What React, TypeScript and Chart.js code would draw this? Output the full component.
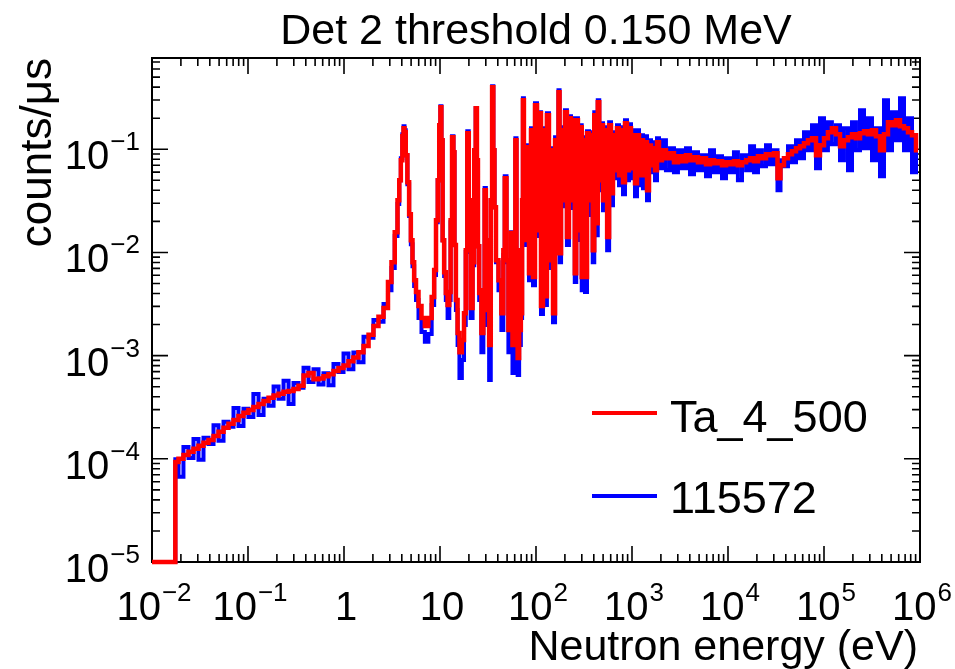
import { useEffect, useRef } from "react";
import { Chart, registerables } from "chart.js";

Chart.register(...registerables);

// ---------- data (energy in eV, counts per microsecond) ----------
const energyThreshold = [0.01, 0.0172];
const taThreshold = [1e-5, 1e-5];
const runThreshold = [1e-5, 1e-5];

const energyLow = [
  0.0178, 0.02, 0.0226, 0.0255, 0.0287, 0.0324, 0.0365, 0.0412, 0.0464, 0.0524,
  0.059, 0.0665, 0.075, 0.0845, 0.0953, 0.107, 0.121, 0.137, 0.154, 0.174,
  0.196, 0.221, 0.249, 0.281, 0.316, 0.357, 0.402, 0.453, 0.511, 0.576,
  0.649, 0.732, 0.825, 0.931, 1.05, 1.18, 1.33, 1.5, 1.7, 1.91,
  2.15, 2.43, 2.74,
];
const taLow = [
  9.3e-5, 1.0e-4, 1.09e-4, 1.17e-4, 1.25e-4, 1.34e-4, 1.43e-4, 1.52e-4, 1.66e-4, 1.83e-4,
  2.0e-4, 2.19e-4, 2.38e-4, 2.6e-4, 2.79e-4, 2.97e-4, 3.18e-4, 3.4e-4, 3.64e-4, 3.9e-4,
  4.1e-4, 4.26e-4, 4.46e-4, 4.55e-4, 4.76e-4, 5.1e-4, 6.4e-4, 6.8e-4, 5.9e-4, 6.0e-4,
  6.3e-4, 6.6e-4, 7.1e-4, 7.6e-4, 8.0e-4, 8.8e-4, 9.6e-4, 1.08e-3, 1.24e-3, 1.59e-3,
  1.94e-3, 2.38e-3, 2.9e-3,
];
const runLow = [
  9.9e-5, 6.7e-5, 1.3e-4, 1.02e-4, 1.56e-4, 9.8e-5, 1.6e-4, 1.39e-4, 2.12e-4, 1.5e-4,
  2.29e-4, 2.05e-4, 3.11e-4, 2.08e-4, 3.05e-4, 2.54e-4, 4.25e-4, 2.66e-4, 3.81e-4, 3.26e-4,
  5.01e-4, 3.81e-4, 5.7e-4, 3.4e-4, 5.44e-4, 4.88e-4, 7.65e-4, 5.56e-4, 7.37e-4, 5.25e-4,
  6.73e-4, 5.17e-4, 8.3e-4, 6.95e-4, 1.05e-3, 7.37e-4, 1.07e-3, 8.64e-4, 1.52e-3, 1.49e-3,
  2.22e-3, 2.13e-3, 3.17e-3,
];

const energyResonance = [
  3.01, 3.24, 3.52, 3.7, 3.83, 3.99, 4.12, 4.22, 4.32, 4.48,
  4.67, 4.87, 5.07, 5.27, 5.49, 5.76, 6.19, 6.65, 7.27, 7.87,
  8.52, 8.87, 9.31, 9.64, 10.0, 10.2, 10.5, 10.8, 11.3, 11.7,
  12.3, 12.7, 13.1, 13.6, 14.0, 14.3, 15.0, 15.5, 16.4, 17.4,
  18.2, 18.9, 19.6, 20.3, 21.4, 22.3, 23.2, 23.9, 24.6, 25.1,
  26.1, 27.9, 28.7, 29.6, 30.5, 31.8, 33.2, 34.4, 35.4, 36.5,
  37.4, 39.2, 42.2, 45.0, 46.4, 48.1, 50.5, 52.7, 54.2, 55.8,
  58.0, 60.0, 61.9, 63.4, 65.4, 68.1, 71.0, 72.3, 73.8, 75.9,
];
const taResonance = [
  5.16e-3, 8.05e-3, 0.0157, 0.0321, 0.0501, 0.0783, 0.134, 0.16, 0.146, 0.0875,
  0.048, 0.0235, 0.0131, 8.05e-3, 5.39e-3, 4.13e-3, 3.02e-3, 2.31e-3, 1.94e-3, 2.31e-3,
  3.69e-3, 6.74e-3, 0.0205, 0.0501, 0.171, 0.255, 0.122, 0.0131, 6.44e-3, 4.04e-3,
  3.09e-3, 4.13e-3, 0.0205, 0.131, 0.0935, 0.0118, 3.45e-3, 1.66e-3, 1.08e-3, 1.42e-3,
  2.58e-3, 0.0105, 0.143, 0.0321, 2.89e-3, 8.05e-3, 0.0978, 0.249, 0.0783, 0.0115,
  4.04e-3, 1.66e-3, 4.31e-3, 0.0401, 0.0131, 2.76e-3, 1.27e-3, 0.0321, 0.398, 0.0978,
  0.0274, 8.42e-3, 5.39e-3, 2.58e-3, 0.0105, 0.0524, 8.42e-3, 1.77e-3, 5.39e-3, 0.0154,
  1.27e-3, 0.0105, 0.122, 0.0105, 9.49e-4, 1.77e-3, 2.58e-3, 0.0321, 0.298, 0.0978,
];
const runResonance = [
  4.31e-3, 7.05e-3, 0.0144, 0.0294, 0.0501, 0.0818, 0.14, 0.167, 0.153, 0.0875,
  0.0459, 0.0225, 0.012, 7.36e-3, 4.72e-3, 3.45e-3, 2.31e-3, 1.69e-3, 1.36e-3, 1.62e-3,
  3.09e-3, 6.03e-3, 0.0196, 0.0501, 0.171, 0.261, 0.122, 0.0131, 5.9e-3, 3.45e-3,
  2.31e-3, 3.45e-3, 0.0196, 0.134, 0.0935, 0.0118, 2.76e-3, 1.27e-3, 6.07e-4, 9.06e-4,
  1.98e-3, 0.0101, 0.149, 0.0321, 2.31e-3, 7.53e-3, 0.0978, 0.249, 0.0783, 0.0115,
  3.45e-3, 1.08e-3, 3.45e-3, 0.042, 0.0126, 1.98e-3, 5.81e-4, 0.0321, 0.407, 0.0978,
  0.0274, 8.05e-3, 4.31e-3, 1.77e-3, 9.42e-3, 0.0548, 8.05e-3, 1.08e-3, 4.82e-3, 0.0157,
  6.79e-4, 9.42e-3, 0.128, 0.0105, 6.49e-4, 1.27e-3, 2.31e-3, 0.0321, 0.312, 0.0978,
];

const energyDense = [
  78.7, 82.5, 86.6, 90.8, 95.3, 100, 105, 110, 115.5, 121,
  127, 133, 140, 147, 154, 162, 169, 174, 178, 187,
  196, 205, 215, 226, 237, 249, 258, 267, 280, 294,
  305, 316, 332, 348, 365, 383, 397, 412, 432, 448,
  464, 487, 511, 536, 566, 590, 619, 649, 681, 715,
  750, 787, 825, 866, 908, 953, 1000, 1049, 1101, 1155,
  1212, 1271, 1334, 1399, 1468, 1540, 1616, 1695, 1778, 1866,
  1957,
];
const taDense = [
  0.0132, 0.1045, 6.3e-3, 0.153, 5.77e-3, 0.267, 0.0164, 0.223, 3.02e-3, 0.153,
  3.77e-3, 0.213, 8.42e-3, 0.0978, 2.58e-3, 0.122, 0.0321, 0.356, 9.84e-3, 0.153,
  0.0321, 0.228, 0.0141, 0.2, 0.0321, 0.191, 6.3e-3, 0.191, 0.0164, 0.163,
  5.77e-3, 0.122, 5.77e-3, 0.143, 0.0321, 0.137, 0.0105, 0.213, 0.0192, 0.285,
  0.0501, 0.171, 0.0321, 0.153, 0.0141, 0.171, 0.0375, 0.137, 0.0626, 0.16,
  0.056, 0.153, 0.0479, 0.179, 0.0626, 0.16, 0.0655, 0.137, 0.0469, 0.137,
  0.056, 0.122, 0.056, 0.117, 0.0401, 0.109, 0.07, 0.102, 0.0626, 0.117,
  0.0782,
];
const runDense = [
  0.0118, 0.1093, 5.39e-3, 0.16, 4.82e-3, 0.279, 0.0144, 0.228, 2.53e-3, 0.16,
  3.09e-3, 0.223, 7.05e-3, 0.102, 2.11e-3, 0.131, 0.0287, 0.373, 8.05e-3, 0.163,
  0.0281, 0.239, 0.0118, 0.209, 0.0269, 0.2, 5.16e-3, 0.2, 0.0132, 0.171,
  4.31e-3, 0.131, 4.13e-3, 0.149, 0.023, 0.146, 8.05e-3, 0.228, 0.0147, 0.298,
  0.0401, 0.179, 0.0257, 0.163, 0.0105, 0.183, 0.0287, 0.146, 0.0524, 0.171,
  0.0448, 0.163, 0.0367, 0.191, 0.0501, 0.175, 0.0524, 0.153, 0.0351, 0.153,
  0.0448, 0.137, 0.0419, 0.134, 0.0321, 0.122, 0.0599, 0.117, 0.0501, 0.128,
  0.0655,
];

const energyHigh = [
  2150, 2370, 2610, 2870, 3160, 3480, 3830, 4220, 4640, 5110,
  5620, 6190, 6810, 7500, 8250, 9090, 10000, 11000, 12100, 13300,
  14700, 16200, 17800, 19600, 21500, 23700, 26100, 28700, 31600, 34000,
  36500, 40200, 44200, 48700, 53600, 59000, 64900, 71500, 78700, 86600,
  95300, 105000, 115000, 127000, 140000, 154000, 169000, 187000, 205000, 226000,
  249000, 274000, 301000, 332000, 365000, 402000, 442000, 487000, 536000, 590000,
  649000, 715000, 787000, 866000, 953000,
];
const taHigh = [
  0.0978, 0.0818, 0.0915, 0.0748, 0.0855, 0.0765, 0.0875, 0.0782, 0.0837, 0.0748,
  0.0818, 0.0716, 0.0782, 0.0732, 0.0765, 0.07, 0.0748, 0.0716, 0.0765, 0.07,
  0.0748, 0.0782, 0.0818, 0.0765, 0.0855, 0.0818, 0.0894, 0.0875, 0.0915, 0.0524,
  0.07, 0.0818, 0.0894, 0.0956, 0.1022, 0.1069, 0.1143, 0.1222, 0.1278, 0.0875,
  0.1093, 0.1278, 0.1461, 0.1597, 0.1397, 0.1069, 0.1222, 0.1306, 0.1397, 0.1278,
  0.1429, 0.1494, 0.1397, 0.1527, 0.1336, 0.0978, 0.1397, 0.1825, 0.1708, 0.191,
  0.167, 0.1597, 0.1461, 0.1366, 0.0978,
];
const runHigh = [
  0.1222, 0.0626, 0.1022, 0.0599, 0.0978, 0.0655, 0.1022, 0.0573, 0.0935, 0.0626,
  0.0875, 0.0548, 0.0978, 0.0599, 0.0855, 0.0524, 0.0818, 0.0599, 0.0935, 0.0501,
  0.0875, 0.0626, 0.1069, 0.0599, 0.0978, 0.0685, 0.1093, 0.0716, 0.0978, 0.0401,
  0.0782, 0.0685, 0.1069, 0.0748, 0.1222, 0.0818, 0.1461, 0.0978, 0.1708, 0.0655,
  0.1996, 0.0978, 0.1825, 0.1118, 0.1708, 0.0782, 0.1597, 0.0626, 0.1825, 0.0978,
  0.2385, 0.1022, 0.1996, 0.0782, 0.1597, 0.0548, 0.298, 0.0978, 0.228, 0.1222,
  0.3117, 0.0978, 0.1996, 0.0599, 0.1366,
];

// axis ticks / labels
const xTickValues = [0.01, 0.1, 1, 10, 100, 1e3, 1e4, 1e5, 1e6];
const xTickBase = ["10", "10", "1", "10", "10", "10", "10", "10", "10"];
const xTickSup = ["\u22122", "\u22121", "", "", "2", "3", "4", "5", "6"];
const yTickValues = [1e-5, 1e-4, 1e-3, 1e-2, 1e-1];
const yTickSup = ["\u22125", "\u22124", "\u22123", "\u22122", "\u22121"];
const xDecades = [-2, -1, 0, 1, 2, 3, 4, 5];
const yDecades = [-5, -4, -3, -2, -1];
const minorMultipliers = [2, 3, 4, 5, 6, 7, 8, 9];

const seriesNames = ["Ta_4_500", "115572"];
const seriesColors = ["#ff0000", "#0000ff"];
const titleText = "Det 2 threshold 0.150 MeV";
const xTitle = "Neutron energy (eV)";
const yTitle = "counts/\u03bcs";

const X_MIN = 0.01;
const X_MAX = 1e6;
const Y_MIN = 1e-5;
const Y_MAX = 0.766;

const FONT = '"Liberation Sans", Arial, Helvetica, sans-serif';

function toPoints(xs: number[], ys: number[]) {
  return xs.map((x, i) => ({ x, y: ys[i] }));
}

const taEnergy = [...energyThreshold, ...energyLow, ...energyResonance, ...energyDense, ...energyHigh];
const taCounts = [...taThreshold, ...taLow, ...taResonance, ...taDense, ...taHigh];
const runCounts = [...runThreshold, ...runLow, ...runResonance, ...runDense, ...runHigh];

const rootStyle = {
  id: "rootStyle",
  beforeDraw(chart: any) {
    const ctx = chart.ctx;
    ctx.save();
    ctx.fillStyle = "#ffffff";
    ctx.fillRect(0, 0, chart.width, chart.height);
    ctx.restore();
  },
  beforeDatasetsDraw(chart: any) {
    const ctx: CanvasRenderingContext2D = chart.ctx;
    const { left, right, top, bottom } = chart.chartArea;
    const xs = chart.scales.x;
    const ys = chart.scales.y;
    ctx.save();
    ctx.strokeStyle = "#000";
    ctx.lineWidth = 2;
    ctx.strokeRect(left, top, right - left, bottom - top);

    ctx.lineWidth = 1.6;
    ctx.beginPath();
    const xTick = (v: number, len: number) => {
      const p = xs.getPixelForValue(v);
      if (p < left - 0.5 || p > right + 0.5) return;
      ctx.moveTo(p, bottom);
      ctx.lineTo(p, bottom - len);
      ctx.moveTo(p, top);
      ctx.lineTo(p, top + len);
    };
    const yTick = (v: number, len: number) => {
      const p = ys.getPixelForValue(v);
      if (p < top - 0.5 || p > bottom + 0.5) return;
      ctx.moveTo(left, p);
      ctx.lineTo(left + len, p);
      ctx.moveTo(right, p);
      ctx.lineTo(right - len, p);
    };
    xTickValues.forEach((v) => xTick(v, 16));
    xDecades.forEach((d) => minorMultipliers.forEach((m) => xTick(m * Math.pow(10, d), 8)));
    yTickValues.forEach((v) => yTick(v, 16));
    yDecades.forEach((d) =>
      minorMultipliers.forEach((m) => {
        const v = m * Math.pow(10, d);
        if (v <= Y_MAX) yTick(v, 8);
      })
    );
    ctx.stroke();
    ctx.restore();
  },
  afterDraw(chart: any) {
    const ctx: CanvasRenderingContext2D = chart.ctx;
    const { left, right, top } = chart.chartArea;
    const xs = chart.scales.x;
    const ys = chart.scales.y;
    ctx.save();

    ctx.fillStyle = "#000";
    ctx.textBaseline = "alphabetic";
    ctx.textAlign = "left";
    const baseFont = `40px ${FONT}`;
    const supFont = `26px ${FONT}`;

    // y labels
    yTickValues.forEach((v, i) => {
      const p = ys.getPixelForValue(v);
      ctx.font = supFont;
      const sw = ctx.measureText(yTickSup[i]).width;
      ctx.font = baseFont;
      const bw = ctx.measureText("10").width;
      const xr = 140;
      ctx.fillText("10", xr - sw - 1 - bw, p + 20);
      ctx.font = supFont;
      ctx.fillText(yTickSup[i], xr - sw, p + 1);
    });

    // x labels
    xTickValues.forEach((v, i) => {
      const p = xs.getPixelForValue(v);
      ctx.font = baseFont;
      const bw = ctx.measureText(xTickBase[i]).width;
      ctx.font = supFont;
      const sup = xTickSup[i];
      const sw = sup ? ctx.measureText(sup).width + 1 : 0;
      const x0 = p + 2 - (bw + sw) / 2;
      ctx.font = baseFont;
      ctx.fillText(xTickBase[i], x0, 620);
      if (sup) {
        ctx.font = supFont;
        ctx.fillText(sup, x0 + bw + 1, 601);
      }
    });

    // axis titles
    ctx.font = `43px ${FONT}`;
    ctx.textAlign = "right";
    ctx.fillText(xTitle, right - 2, 660);
    ctx.save();
    ctx.font = `44px ${FONT}`;
    ctx.translate(51, top);
    ctx.rotate(-Math.PI / 2);
    ctx.textAlign = "right";
    ctx.fillText(yTitle, 0, 0);
    ctx.restore();

    // title
    ctx.font = `43px ${FONT}`;
    ctx.textAlign = "center";
    ctx.fillText(titleText, (left + right) / 2, 44);

    // legend
    const legendY = [413, 496];
    const legendBase = [432, 513];
    ctx.textAlign = "left";
    ctx.font = `45px ${FONT}`;
    seriesNames.forEach((name, i) => {
      ctx.strokeStyle = seriesColors[i];
      ctx.lineWidth = 4;
      ctx.beginPath();
      ctx.moveTo(592, legendY[i]);
      ctx.lineTo(657, legendY[i]);
      ctx.stroke();
      ctx.fillStyle = "#000";
      ctx.fillText(name, 670, legendBase[i]);
    });

    ctx.restore();
  },
};

export default function App() {
  const canvasRef = useRef<HTMLCanvasElement | null>(null);

  useEffect(() => {
    document.body.style.margin = "0";
    const canvas = canvasRef.current;
    if (!canvas) return;
    const chart = new Chart(canvas, {
      type: "line",
      data: {
        datasets: [
          {
            label: seriesNames[0],
            data: toPoints(taEnergy, taCounts),
            borderColor: seriesColors[0],
            backgroundColor: seriesColors[0],
            borderWidth: 4.5,
            pointRadius: 0,
            stepped: "middle",
            fill: false,
            clip: 3,
            order: 0,
          },
          {
            label: seriesNames[1],
            data: toPoints(taEnergy, runCounts),
            borderColor: seriesColors[1],
            backgroundColor: seriesColors[1],
            borderWidth: 4,
            pointRadius: 0,
            stepped: "middle",
            fill: false,
            clip: 3,
            order: 1,
          },
        ],
      },
      options: {
        responsive: false,
        animation: false,
        devicePixelRatio: 1,
        events: [],
        layout: { padding: { left: 152, right: 35, top: 58, bottom: 107 } },
        scales: {
          x: { type: "logarithmic", min: X_MIN, max: X_MAX, display: false },
          y: { type: "logarithmic", min: Y_MIN, max: Y_MAX, display: false },
        },
        plugins: {
          legend: { display: false },
          title: { display: false },
          tooltip: { enabled: false },
        },
      } as any,
      plugins: [rootStyle],
    });
    return () => chart.destroy();
  }, []);

  return (
    <div style={{ position: "absolute", left: 0, top: 0, width: 955, height: 669 }}>
      <canvas ref={canvasRef} width={955} height={669} style={{ display: "block" }} />
    </div>
  );
}
